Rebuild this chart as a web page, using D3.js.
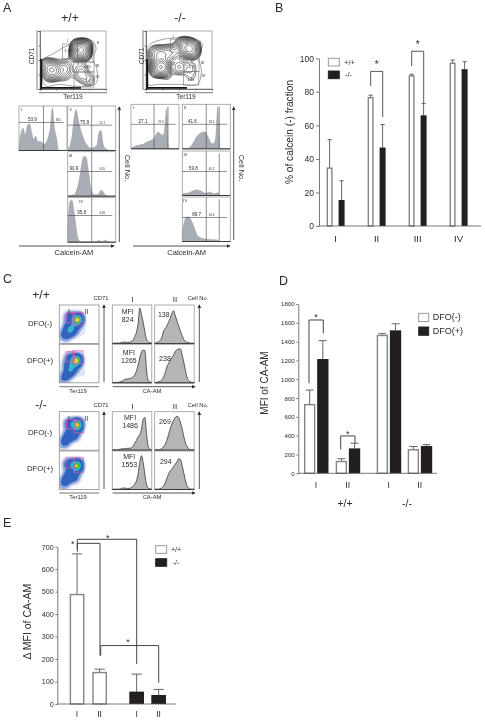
<!DOCTYPE html>
<html>
<head>
<meta charset="utf-8">
<script src="https://d3js.org/d3.v7.min.js"></script>
<style>
html, body { margin: 0; padding: 0; background: #fff; }
svg { display: block; }
text { font-family: "Liberation Sans", Arial, sans-serif; fill: #2b2b2b; }
</style>
</head>
<body>
<div id="chart"></div>
<script>
// ---- panel B ----
var bGroups = ['I', 'II', 'III', 'IV'];
var bSeries = ['+/+', '-/-'];
var bWT = [34.5, 76.5, 89.5, 97];
var bWTtop = [51.5, 78, 90.5, 99];
var bKO = [15.5, 46.8, 66, 93.5];
var bKOtop = [27, 60.5, 73, 98];
var bTicks = [0, 20, 40, 60, 80, 100];

// ---- panel D ----
var dGroups = ['+/+ I', '+/+ II', '-/- I', '-/- II'];
var dGroupLabels = ['I', 'II', 'I', 'II'];
var dSeries = ['DFO(-)', 'DFO(+)'];
var dMinus = [730, 125, 1465, 250];
var dMinusTop = [885, 155, 1485, 285];
var dPlus = [1215, 265, 1520, 290];
var dPlusTop = [1410, 320, 1590, 305];
var dTicks = [0, 200, 400, 600, 800, 1000, 1200, 1400, 1600, 1800];

// ---- panel E ----
var eGroups = ['+/+ I', '+/+ II', '-/- I', '-/- II'];
var eGroupLabels = ['I', 'II', 'I', 'II'];
var eValues = [487, 140, 55, 40];
var eTop = [668, 155, 133, 65];
var eTicks = [0, 100, 200, 300, 400, 500, 600, 700];

// ---- panel A histograms, height in % of the box, evenly spaced along Calcein-AM ----
var aWT1 = [5, 40, 50, 35, 55, 60, 42, 25, 32, 20, 20, 18, 14, 18, 30, 50, 95, 50, 28, 0, 0, 0, 0, 0];
var aWT2 = [2, 10, 30, 70, 92, 72, 50, 35, 22, 14, 8, 5, 6, 8, 12, 40, 45, 14, 5, 2, 0, 0, 0, 0];
var aWT3 = [1, 1, 2, 3, 10, 25, 50, 80, 90, 85, 55, 20, 6, 3, 3, 6, 14, 10, 3, 1, 0, 0, 0, 0];
var aWT4 = [30, 90, 95, 70, 35, 8, 2, 1, 1, 1, 1, 1, 1, 1, 2, 4, 2, 2, 5, 2, 1, 0, 0, 0];
var aKO1 = [2, 4, 6, 8, 8, 10, 10, 14, 16, 18, 20, 22, 32, 38, 34, 30, 38, 90, 0, 0, 0, 0, 0, 0];
var aKO2 = [0, 0, 0, 2, 5, 12, 20, 28, 32, 36, 38, 38, 30, 20, 12, 12, 25, 95, 0, 0, 0, 0, 0, 0];
var aKO3 = [4, 5, 5, 6, 8, 10, 12, 13, 11, 10, 7, 5, 6, 8, 6, 4, 5, 6, 0, 0, 0, 0, 0, 0];
var aKO4 = [20, 45, 55, 55, 50, 40, 28, 15, 10, 8, 6, 6, 5, 5, 4, 4, 4, 3, 0, 0, 0, 0, 0, 0];

// ---- panel A contour plots, [Ter119 %, CD71 %, weight] ----
var aWTseeds = [[62, 67, 110], [60, 64, 40], [64, 70, 40], [18, 34, 22], [12, 38, 14], [23, 30, 14], [16, 26, 8],
  [38, 36, 8], [37, 24, 3], [62, 25, 6], [73, 16, 4], [62, 38, 3], [50, 52, 1.5], [30, 55, 0.8]];
var aKOseeds = [[62, 72, 34], [68, 68, 44], [56, 74, 14], [24, 38, 70], [18, 36, 20], [24, 59, 18], [15, 60, 12], [36, 62, 12],
  [50, 38, 8], [46, 62, 6], [67, 38, 3], [68, 22, 2], [32, 20, 1.5]];
var aWToutline = [[3, 48], [22, 62], [40, 74], [62, 80], [78, 84], [85, 70], [80, 52], [86, 35], [85, 10], [70, 5], [50, 5], [30, 8], [8, 6]];
var aKOoutline = [[2, 72], [20, 84], [45, 88], [68, 88], [85, 78], [80, 55], [84, 30], [78, 8], [50, 8], [20, 8], [3, 8]];

// ---- panel C histograms ----
var cWTminusI = [1, 1, 1, 1, 1, 2, 3, 4, 3, 3, 3, 5, 8, 18, 28, 50, 92, 75, 55, 30, 10, 4, 2, 1];
var cWTminusII = [1, 2, 4, 8, 14, 30, 38, 45, 55, 65, 78, 85, 72, 58, 45, 32, 20, 10, 5, 3, 2, 1, 1, 1];
var cWTplusI = [1, 1, 1, 1, 2, 3, 5, 8, 10, 10, 11, 12, 15, 20, 30, 45, 65, 80, 85, 83, 30, 5, 2, 1];
var cWTplusII = [1, 1, 2, 4, 6, 14, 24, 40, 50, 58, 65, 72, 82, 86, 88, 88, 72, 52, 30, 12, 4, 2, 1, 1];
var cKOminusI = [1, 1, 1, 1, 2, 3, 4, 4, 4, 5, 5, 6, 10, 18, 25, 35, 40, 55, 80, 85, 40, 8, 2, 1];
var cKOminusII = [1, 1, 1, 2, 4, 8, 14, 25, 40, 55, 68, 78, 85, 88, 85, 72, 55, 35, 18, 8, 3, 1, 1, 1];
var cKOplusI = [1, 1, 1, 1, 1, 2, 4, 4, 3, 3, 3, 5, 8, 14, 22, 40, 70, 88, 70, 38, 12, 4, 2, 1];
var cKOplusII = [1, 1, 1, 2, 4, 8, 16, 28, 40, 48, 52, 60, 66, 72, 80, 78, 62, 42, 22, 8, 3, 1, 1, 1];

// ---- panel C density plots, [Ter119 %, CD71 %, weight] ----
var cWTminusSeeds = [[47, 64, 40], [45, 55, 14], [27, 68, 16], [31, 31, 16], [24, 44, 14], [38, 44, 10], [12, 22, 8], [18, 14, 3], [20, 30, 8], [55, 32, 2]];
var cWTplusSeeds = [[44, 60, 40], [42, 50, 14], [27, 63, 14], [27, 28, 16], [32, 40, 16], [20, 45, 8], [10, 10, 6], [17, 18, 8], [55, 28, 2]];
var cKOminusSeeds = [[46, 68, 40], [46, 56, 14], [27, 68, 20], [26, 42, 16], [14, 22, 10], [38, 38, 12], [20, 30, 8], [8, 10, 2]];
var cKOplusSeeds = [[45, 64, 40], [44, 52, 14], [25, 65, 20], [26, 38, 16], [14, 19, 10], [38, 32, 12], [20, 28, 8], [8, 8, 2]];

var W = 485, H = 721;
var grey = '#555';
var svg = d3.select('#chart').append('svg')
  .attr('width', W)
  .attr('height', H)
  .style('filter', 'blur(0.35px)');

var defs = svg.append('defs');
defs.append('marker')
  .attr('id', 'tip')
  .attr('viewBox', '0 0 6 6')
  .attr('refX', 5).attr('refY', 3)
  .attr('markerWidth', 4).attr('markerHeight', 4)
  .attr('markerUnits', 'userSpaceOnUse')
  .attr('orient', 'auto')
  .append('path')
  .attr('d', 'M0,0L6,3L0,6Z')
  .attr('fill', '#333');

function label(parent, x, y, s, size, anchor, rotate) {
  var t = parent.append('text')
    .attr('x', x).attr('y', y)
    .attr('font-size', size)
    .attr('text-anchor', anchor || 'middle')
    .attr('dominant-baseline', 'central')
    .text(s);
  if (rotate) t.attr('transform', 'rotate(' + rotate + ' ' + x + ' ' + y + ')');
  return t;
}

function arrow(x1, y1, x2, y2) {
  svg.append('line')
    .attr('x1', x1).attr('y1', y1).attr('x2', x2).attr('y2', y2)
    .attr('stroke', grey).attr('stroke-width', 1)
    .attr('marker-end', 'url(#tip)');
}

// panel letters
[['A', 3, 8], ['B', 275, 8], ['C', 3, 279], ['D', 279, 281], ['E', 3, 523]].forEach(function(d) {
  label(svg, d[1], d[2], d[0], 12.5, 'start');
});

// ---------------- histograms ----------------
function histogram(px, py, pw, ph, values, opt) {
  var g = svg.append('g').attr('transform', 'translate(' + px + ',' + py + ')');
  var x = d3.scaleLinear().domain([0, values.length - 1]).range([0, pw]);
  var y = d3.scaleLinear().domain([0, 100]).range([ph, 0]);
  var area = d3.area()
    .x(function(d, i) { return x(i); })
    .y0(ph)
    .y1(function(d) { return y(d); })
    .curve(d3.curveMonotoneX);
  g.append('path').attr('d', area(values))
    .attr('fill', opt.fill).attr('stroke', opt.stroke).attr('stroke-width', opt.lw);
  g.append('rect').attr('width', pw).attr('height', ph)
    .attr('fill', 'none').attr('stroke', '#9a9a9a').attr('stroke-width', 0.8);
  g.append('line').attr('x1', 0).attr('x2', pw).attr('y1', ph).attr('y2', ph)
    .attr('stroke', '#222').attr('stroke-width', 0.8);
  var xp = d3.scaleLinear().domain([0, 100]).range([0, pw]);
  (opt.cuts || []).forEach(function(c) {
    g.append('line').attr('x1', xp(c)).attr('x2', xp(c)).attr('y1', c > 70 ? y(95) : 0).attr('y2', ph)
      .attr('stroke', '#444').attr('stroke-width', 0.6);
  });
  if (opt.gateY) {
    g.append('line').attr('x1', 0).attr('x2', xp(93)).attr('y1', y(opt.gateY)).attr('y2', y(opt.gateY))
      .attr('stroke', '#444').attr('stroke-width', 0.6);
  }
  (opt.labels || []).forEach(function(d) {
    label(g, xp(d[0]), y(d[1]), d[2], d[3]);
  });
}

var aPanels = [
  { box: [19, 106], v: aWT1, cuts: [51], gate: 63, big: [28, '53.9'], small: [82, '39.5'], tag: 'I' },
  { box: [67.7, 106], v: aWT2, cuts: [50], gate: 57, big: [35, '75.9'], small: [72, '22.1'], tag: 'II' },
  { box: [67.7, 151.7], v: aWT3, cuts: [50], gate: 55.5, big: [13, '90.9'], small: [72, '9.05'], tag: 'III' },
  { box: [67.7, 197.7], v: aWT4, cuts: [50], gate: 60, big: [29, '95.8'], small: [72, '4.06'], tag: 'IV' },
  { box: [131, 104.3], v: aKO1, cuts: [48, 77], gate: 55, big: [25, '27.1'], small: [62, '72.9'], tag: 'I' },
  { box: [182.3, 104.3], v: aKO2, cuts: [50, 77], gate: 55, big: [21, '41.6'], small: [61, '58.2'], tag: 'II' },
  { box: [182.3, 151], v: aKO3, cuts: [50, 77], gate: 54, big: [23, '59.8'], small: [61, '40.2'], tag: 'III' },
  { box: [182.3, 197], v: aKO4, cuts: [50, 77], gate: 54, big: [30, '89.7'], small: [61, '10.3'], tag: 'IV' }
];
aPanels.forEach(function(p) {
  histogram(p.box[0], p.box[1], 48, 44.5, p.v, {
    fill: '#a9adb5', stroke: '#8b8f96', lw: 0.4,
    cuts: p.cuts, gateY: p.gate,
    labels: [
      [p.big[0], p.gate + 6, p.big[1], 4.6],
      [p.small[0], p.gate + 5, p.small[1], 2.8],
      [p.tag == 'IV' && p.box[0] < 100 ? 28 : 6, 92, p.tag, 4]
    ]
  });
});

arrow(119.3, 242, 119.3, 107);
arrow(233.7, 240, 233.7, 107);
arrow(19, 246, 114, 246);
arrow(133, 246, 230, 246);
label(svg, 74, 252.5, 'Calcein-AM', 7.5);
label(svg, 186.7, 252.5, 'Calcein-AM', 7.5);
label(svg, 127, 168, 'Cell No.', 7.5, 'middle', 90);
label(svg, 241, 168, 'Cell No.', 7.5, 'middle', 90);
label(svg, 70, 18, '+/+', 12);
label(svg, 180, 18, '-/-', 12);

// ---------------- contour plots, panel A ----------------
var contourLevels = d3.range(16).map(function(i) { return 0.012 * Math.pow(1.4, i); });

function contourPlot(id, px, py, seeds, outline, gates, tags) {
  var pw = 66, ph = 58;
  var x = d3.scaleLinear().domain([0, 100]).range([0, pw]);
  var y = d3.scaleLinear().domain([0, 100]).range([ph, 0]);
  defs.append('clipPath').attr('id', id).append('rect').attr('width', pw).attr('height', ph);
  var g = svg.append('g').attr('transform', 'translate(' + px + ',' + py + ')');
  g.append('rect').attr('width', pw).attr('height', ph)
    .attr('fill', '#fff').attr('stroke', '#9a9a9a').attr('stroke-width', 0.8);

  var inner = g.append('g').attr('clip-path', 'url(#' + id + ')');
  var density = d3.contourDensity()
    .x(function(d) { return x(d[0]); })
    .y(function(d) { return y(d[1]); })
    .weight(function(d) { return d[2]; })
    .size([pw, ph])
    .cellSize(1)
    .bandwidth(4)
    .thresholds(contourLevels);
  inner.selectAll('path.c').data(density(seeds)).join('path')
    .attr('class', 'c')
    .attr('d', d3.geoPath())
    .attr('fill', 'none')
    .attr('stroke', '#222')
    .attr('stroke-width', 0.55);

  var line = d3.line()
    .x(function(d) { return x(d[0]); })
    .y(function(d) { return y(d[1]); })
    .curve(d3.curveCatmullRomClosed);
  inner.append('path').attr('d', line(outline))
    .attr('fill', 'none').attr('stroke', '#333').attr('stroke-width', 0.45);

  // events piled on the axes
  inner.append('line').attr('x1', x(1.5)).attr('x2', x(1.5)).attr('y1', y(52)).attr('y2', y(0))
    .attr('stroke', '#111').attr('stroke-width', 2.4);
  inner.append('line').attr('x1', x(0)).attr('x2', x(62)).attr('y1', y(2)).attr('y2', y(2))
    .attr('stroke', '#111').attr('stroke-width', 1.8);

  g.selectAll('rect.gate').data(gates).join('rect')
    .attr('class', 'gate')
    .attr('x', function(d) { return x(d[0]); })
    .attr('width', function(d) { return x(d[1]) - x(d[0]); })
    .attr('y', function(d) { return y(d[3]); })
    .attr('height', function(d) { return y(d[2]) - y(d[3]); })
    .attr('fill', 'none').attr('stroke', '#777').attr('stroke-width', 0.6);
  tags.forEach(function(d) { label(g, x(d[0]), y(d[1]), d[2], d[3]); });

  var axL = d3.axisLeft(y).tickValues([0, 25, 50, 75, 100]).tickSize(1.5).tickFormat('');
  var axB = d3.axisBottom(x).tickValues([0, 25, 50, 75, 100]).tickSize(1.5).tickFormat('');
  g.append('g').call(axL).selectAll('path,line').attr('stroke', '#333').attr('stroke-width', 0.6);
  g.append('g').attr('transform', 'translate(0,' + ph + ')').call(axB).selectAll('path,line').attr('stroke', '#333').attr('stroke-width', 0.6);
}

contourPlot('clipAwt', 40, 31, aWTseeds, aWToutline,
  [[34.4, 57, 51.7, 77.6], [57, 81.8, 46.6, 79.3], [50.5, 81.8, 29.3, 46.6], [51.5, 81.8, 3.4, 29.3]],
  [[42, 84, 'I', 4], [42, 66, '1.13', 3.6], [88, 80, 'II', 4], [87, 40, 'III', 4], [87, 22, 'IV', 4], [72, 38, '0.81', 3.4], [72, 13, '3.4', 3.4]]);
contourPlot('clipAko', 146, 31, aKOseeds, aKOoutline,
  [[37.4, 62, 63.8, 86], [51.5, 77, 51.7, 84.5], [57.6, 80.3, 29.8, 52], [56.5, 80, 7, 30]],
  [[41, 90, 'I', 4], [82, 80, 'II', 4], [86, 46, 'III', 4], [87, 23, 'IV', 4], [68, 38, '3.3', 3.8], [68, 16, '1.85', 3.6]]);

[[40, 73], [146, 186]].forEach(function(d) {
  svg.append('line').attr('x1', d[0] - 1).attr('x2', d[0] + 67).attr('y1', 92.7).attr('y2', 92.7)
    .attr('stroke', grey).attr('stroke-width', 0.8);
  label(svg, d[1], 96.5, 'Ter119', 6.5);
});
label(svg, 31, 56, 'CD71', 6.5, 'middle', -90);
label(svg, 141, 56, 'CD71', 6.5, 'middle', -90);
svg.append('line').attr('x1', 37).attr('x2', 37).attr('y1', 30).attr('y2', 90).attr('stroke', grey).attr('stroke-width', 0.8);
svg.append('line').attr('x1', 143).attr('x2', 143).attr('y1', 30).attr('y2', 90).attr('stroke', grey).attr('stroke-width', 0.8);

// ---------------- panel C ----------------
var densityLevels = [0.012, 0.04, 0.1, 0.33, 0.46, 0.56, 0.66];
var densityColors = ['#dfe5f3', '#8ea8de', '#2f63bd', '#33b8d4', '#3fb44b', '#e9d92b', '#dd3a22'];

function densityPlot(id, px, py, seeds, gates) {
  var pw = 39.7, ph = 38.5;
  var x = d3.scaleLinear().domain([0, 100]).range([0, pw]);
  var y = d3.scaleLinear().domain([0, 100]).range([ph, 0]);
  defs.append('clipPath').attr('id', id).append('rect').attr('width', pw).attr('height', ph);
  var g = svg.append('g').attr('transform', 'translate(' + px + ',' + py + ')');
  var inner = g.append('g').attr('clip-path', 'url(#' + id + ')');
  var density = d3.contourDensity()
    .x(function(d) { return x(d[0]); })
    .y(function(d) { return y(d[1]); })
    .weight(function(d) { return d[2]; })
    .size([pw, ph])
    .cellSize(1)
    .bandwidth(3.4)
    .thresholds(densityLevels);
  inner.selectAll('path').data(density(seeds)).join('path')
    .attr('d', d3.geoPath())
    .attr('fill', function(d) { return densityColors[densityLevels.indexOf(d.value)]; })
    .attr('stroke', 'none');
  g.append('rect').attr('width', pw).attr('height', ph)
    .attr('fill', 'none').attr('stroke', '#8d8d8d').attr('stroke-width', 0.8);
  g.selectAll('rect.gate').data(gates).join('rect')
    .attr('class', 'gate')
    .attr('x', function(d) { return x(d[0]); })
    .attr('width', function(d) { return x(d[1]) - x(d[0]); })
    .attr('y', function(d) { return y(d[3]); })
    .attr('height', function(d) { return y(d[2]) - y(d[3]); })
    .attr('fill', 'none').attr('stroke', '#d75cb8').attr('stroke-width', 0.8);
}

densityPlot('clipC1', 59.3, 305, cWTminusSeeds, [[18.6, 39.5, 53.6, 79.5], [34.5, 59.7, 48, 80]]);
densityPlot('clipC2', 59.3, 344.3, cWTplusSeeds, [[17, 38, 54.2, 80.5], [34.5, 59.7, 50, 83]]);
densityPlot('clipC3', 59.3, 411.7, cKOminusSeeds, [[18.6, 42, 55, 80], [37, 60.7, 45, 78]]);
densityPlot('clipC4', 59.3, 451, cKOplusSeeds, [[17, 37, 56, 82], [37, 60.7, 45, 82]]);

var cPanels = [
  [112.3, 305, cWTminusI, [[39, 84, 'MFI'], [39, 62, '824']]],
  [154.7, 305, cWTminusII, [[23, 76, '138']]],
  [112.3, 344.3, cWTplusI, [[42, 78, 'MFI'], [42, 57, '1265']]],
  [154.7, 344.3, cWTplusII, [[26, 63, '238']]],
  [112.3, 411.7, cKOminusI, [[45, 84, 'MFI'], [45, 63, '1486']]],
  [154.7, 411.7, cKOminusII, [[26, 74, '269']]],
  [112.3, 451, cKOplusI, [[43, 86, 'MFI'], [43, 66, '1553']]],
  [154.7, 451, cKOplusII, [[28, 72, '294']]]
];
cPanels.forEach(function(p) {
  histogram(p[0], p[1], 39.5, 38.5, p[2], {
    fill: '#b4b5b7', stroke: '#222', lw: 0.7,
    labels: p[3].map(function(d) { return [d[0], d[1], d[2], 7]; })
  });
});

[['+/+', 295, 298, 299, 323.7, 360, 305, 382, 386.7, 391],
 ['-/-', 405, 405, 406, 432.7, 468, 412, 489, 493, 497]].forEach(function(r) {
  label(svg, 41, r[1], r[0], 12);
  label(svg, 101, r[2], 'CD71', 5.8);
  label(svg, 198, r[2], 'Cell No.', 5.8);
  label(svg, 132.7, r[3], 'I', 8);
  label(svg, 175, r[3], 'II', 8);
  label(svg, 40, r[4], 'DFO(-)', 7.8);
  label(svg, 40, r[5], 'DFO(+)', 7.8);
  label(svg, 69, r[6] + 6, 'I', 7);
  label(svg, 86.7, r[6] + 6, 'II', 7);
  arrow(104, r[7], 104, r[6]);
  arrow(199.3, r[7], 199.3, r[6]);
  svg.append('line').attr('x1', 59.3).attr('x2', 99).attr('y1', r[8]).attr('y2', r[8])
    .attr('stroke', grey).attr('stroke-width', 0.8);
  arrow(112.7, r[8], 195, r[8]);
  label(svg, 78, r[9], 'Ter119', 5.8);
  label(svg, 152, r[9], 'CA-AM', 5.8);
});

// ---------------- bar charts ----------------
function styleAxis(sel, size) {
  sel.selectAll('path,line').attr('stroke', grey).attr('stroke-width', 0.8);
  sel.selectAll('text').attr('font-size', size);
}

function bars(g, rows, bw, y) {
  g.selectAll('line.err').data(rows).join('line')
    .attr('class', 'err')
    .attr('x1', function(d) { return d.x + bw / 2; })
    .attr('x2', function(d) { return d.x + bw / 2; })
    .attr('y1', function(d) { return y(d.v); })
    .attr('y2', function(d) { return y(d.top); })
    .attr('stroke', '#555').attr('stroke-width', 0.9);
  g.selectAll('line.cap').data(rows).join('line')
    .attr('class', 'cap')
    .attr('x1', function(d) { return d.x + bw / 2 - bw * 0.35; })
    .attr('x2', function(d) { return d.x + bw / 2 + bw * 0.35; })
    .attr('y1', function(d) { return y(d.top); })
    .attr('y2', function(d) { return y(d.top); })
    .attr('stroke', '#555').attr('stroke-width', 0.9);
  g.selectAll('rect.bar').data(rows).join('rect')
    .attr('class', 'bar')
    .attr('x', function(d) { return d.x + (d.kind ? 0 : 0.7); })
    .attr('width', function(d) { return bw - (d.kind ? 0 : 1.4); })
    .attr('y', function(d) { return y(d.v); })
    .attr('height', function(d) { return y(0) - y(d.v); })
    .attr('fill', function(d) { return d.kind ? '#231f20' : '#fff'; })
    .attr('stroke', function(d) { return d.kind ? '#231f20' : '#858585'; })
    .attr('stroke-width', function(d) { return d.kind ? 0 : 1.4; });
}

function bracket(g, pts, w) {
  g.append('path')
    .attr('d', d3.line()(pts))
    .attr('fill', 'none').attr('stroke', '#444').attr('stroke-width', w || 0.9);
}

function legend(g, x, y1, y2, bw, bh, tx, size, names, dx) {
  [[y1, '#fff', '#8f8f8f'], [y2, '#231f20', '#231f20']].forEach(function(d, i) {
    g.append('rect').attr('x', x).attr('y', d[0]).attr('width', bw).attr('height', bh)
      .attr('fill', d[1]).attr('stroke', d[2]).attr('stroke-width', 0.9);
    label(g, tx + (i ? dx : 0), d[0] + bh / 2, names[i], size, 'start');
  });
}

// panel B
var yB = d3.scaleLinear().domain([0, 100]).range([226, 58.3]);
var xB = d3.scaleBand().domain(bGroups).range([315.1, 479.1]);
var xBinner = d3.scaleBand().domain(bSeries).range([11.5, 29.5]).paddingInner(0.5);
var gB = svg.append('g');
var bRows = [];
bGroups.forEach(function(c, i) {
  bRows.push({ x: xB(c) + xBinner('+/+'), v: bWT[i], top: bWTtop[i], kind: 0 });
  bRows.push({ x: xB(c) + xBinner('-/-'), v: bKO[i], top: bKOtop[i], kind: 1 });
});
bars(gB, bRows, xBinner.bandwidth(), yB);
gB.append('g').attr('transform', 'translate(319,0)')
  .call(d3.axisLeft(yB).tickValues(bTicks).tickSize(3).tickSizeOuter(0).tickPadding(2))
  .call(styleAxis, 8.5);
gB.append('line').attr('x1', 319).attr('x2', 481).attr('y1', yB(0)).attr('y2', yB(0))
  .attr('stroke', grey).attr('stroke-width', 0.8);
bGroups.forEach(function(c) { label(gB, xB(c) + xB.bandwidth() / 2, 238, c, 9.5); });
label(gB, 289.3, 132, '% of calcein (-) fraction', 10.2, 'middle', -90);
bracket(gB, [[370.7, yB(83.5)], [370.7, yB(92.2)], [382.7, yB(92.2)], [382.7, yB(65)]]);
bracket(gB, [[411.7, yB(95.4)], [411.7, yB(104.2)], [423.7, yB(104.2)], [423.7, yB(73)]]);
label(gB, 376.7, yB(97) + 1, '*', 10);
label(gB, 417.7, yB(109) + 1, '*', 10);
legend(gB, 328.3, 58.3, 71, 11, 7.7, 344, 7.5, bSeries, 1);

// panel D
var yD = d3.scaleLinear().domain([0, 1800]).range([473.3, 304]);
var xD = d3.scaleOrdinal().domain(dGroups).range([304, 335.7, 376.7, 407.7]);
var dInner = d3.scaleBand().domain(dSeries).range([0, 24.5]).paddingInner(0.14);
var gD = svg.append('g');
var dRows = [];
dGroups.forEach(function(c, i) {
  dRows.push({ x: xD(c) + dInner('DFO(-)'), v: dMinus[i], top: dMinusTop[i], kind: 0 });
  dRows.push({ x: xD(c) + dInner('DFO(+)'), v: dPlus[i], top: dPlusTop[i], kind: 1 });
});
bars(gD, dRows, dInner.bandwidth(), yD);
gD.append('g').attr('transform', 'translate(298.3,0)')
  .call(d3.axisLeft(yD).tickValues(dTicks).tickSize(2).tickSizeOuter(0).tickPadding(1.5).tickFormat(d3.format('d')))
  .call(styleAxis, 6.2);
gD.append('line').attr('x1', 298.3).attr('x2', 437).attr('y1', yD(0)).attr('y2', yD(0))
  .attr('stroke', grey).attr('stroke-width', 0.8);
dGroups.forEach(function(c, i) {
  label(gD, xD(c) + 12, 485, dGroupLabels[i], 8.5);
});
label(gD, 264.7, 383, 'MFI of CA-AM', 10, 'middle', -90);
label(gD, 345, 503, '+/+', 10.5);
label(gD, 407, 503, '-/-', 10.5);
bracket(gD, [[309, yD(957)], [309, yD(1630)], [323.3, yD(1630)], [323.3, yD(1488)]], 1);
bracket(gD, [[340.7, yD(255)], [340.7, yD(397)], [355, yD(397)], [355, yD(319)]], 1);
label(gD, 316, yD(1670) + 1, '*', 9);
label(gD, 347.7, yD(430) + 1, '*', 9);
legend(gD, 418.7, 313.3, 327, 10, 8.3, 432.7, 9, dSeries, 0);

// panel E
var yE = d3.scaleLinear().domain([0, 700]).range([704, 546.7]);
var xE = d3.scaleOrdinal().domain(eGroups).range([69.7, 92.3, 129.3, 151.3]);
var gE = svg.append('g');
var eRows = eGroups.map(function(c, i) {
  return { x: xE(c), v: eValues[i], top: eTop[i], kind: i > 1 ? 1 : 0 };
});
bars(gE, eRows, 14.7, yE);
gE.append('g').attr('transform', 'translate(57.3,0)')
  .call(d3.axisLeft(yE).tickValues(eTicks).tickSize(2).tickSizeOuter(0).tickPadding(1.5))
  .call(styleAxis, 7.2);
gE.append('line').attr('x1', 57.3).attr('x2', 175.7).attr('y1', yE(0)).attr('y2', yE(0))
  .attr('stroke', grey).attr('stroke-width', 0.8);
eGroups.forEach(function(c, i) {
  label(gE, xE(c) + 7.3, 714, eGroupLabels[i], 8.5);
});
label(gE, 27, 621.7, '\u0394 MFI of CA-AM', 10.5, 'middle', -90);
bracket(gE, [[77.3, yE(678)], [77.3, yE(715)], [100, yE(715)], [100, yE(215)]], 1);
bracket(gE, [[77.3, yE(690)], [77.3, yE(733)], [136.7, yE(733)], [136.7, yE(178)]], 1);
bracket(gE, [[100.7, yE(215)], [100.7, yE(260)], [158.7, yE(260)], [158.7, yE(95)]], 1);
label(gE, 72.7, yE(715) + 1, '*', 9);
label(gE, 107.7, yE(745) + 1, '*', 9);
label(gE, 128, yE(280) + 1, '*', 9);
legend(gE, 155.7, 545.7, 558.7, 11, 7.6, 171, 7, ['+/+', '-/-'], 1.7);
</script>
</body>
</html>
